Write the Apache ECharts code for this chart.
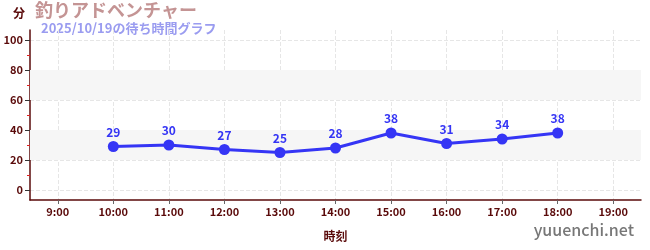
<!DOCTYPE html>
<html><head><meta charset="utf-8">
<script src="https://cdn.jsdelivr.net/npm/echarts@6/dist/echarts.min.js"></script>
<style>html,body{margin:0;padding:0;background:#fff}#c{width:650px;height:250px}</style>
</head><body><div id="c"></div>
<script>
const title = "釣りアドベンチャー";
const subtitle = "2025/10/19の待ち時間グラフ";
const hours = [10, 11, 12, 13, 14, 15, 16, 17, 18];
const waits = [29, 30, 27, 25, 28, 38, 31, 34, 38];
const xTicks = [9, 10, 11, 12, 13, 14, 15, 16, 17, 18, 19];
const yTicks = [0, 20, 40, 60, 80, 100];
const yMinorTicks = [10, 30, 50, 70, 90];

const axisColor = '#5a0a0a';
const font = '"Noto Sans CJK JP", "Noto Sans", sans-serif';
const chart = echarts.init(document.getElementById('c'));
chart.setOption({
  animation: false,
  textStyle: { fontFamily: font },
  graphic: [
    { type: 'text', left: 13, top: 7, style: { text: '分', fill: axisColor, font: 'bold 12px ' + font } },
    { type: 'text', left: 35, top: 1, style: { text: title, fill: '#c49494', font: 'bold 18px ' + font } },
    { type: 'text', left: 41, top: 22, style: { text: subtitle, fill: '#9a9cf0', font: 'bold 13px ' + font } },
    { type: 'text', right: 16, top: 222, style: { text: 'yuuenchi.net', fill: '#777777', font: '500 16px ' + font } }
  ],
  grid: { left: 30, right: 9, top: 30, bottom: 50 },
  xAxis: {
    type: 'value', min: 8.5, max: 19.5,
    name: '時刻', nameLocation: 'middle', nameGap: 30,
    nameTextStyle: { color: axisColor, fontWeight: 'bold', fontSize: 12 },
    axisLine: { onZero: false, lineStyle: { color: axisColor, width: 1.5 } },
    axisTick: { customValues: xTicks, length: 4, lineStyle: { color: '#666' } },
    axisLabel: { customValues: xTicks, color: axisColor, fontWeight: 'bold', fontSize: 11, margin: 6,
      formatter: v => v + ':00' },
    splitLine: { show: true, lineStyle: { color: '#e6e6e6', type: 'dashed' } }
  },
  yAxis: [{
    type: 'value', min: -20/3, max: 320/3,
    axisLine: { show: true, lineStyle: { color: axisColor, width: 1.5 } },
    axisTick: { show: true, customValues: yTicks, length: 5, lineStyle: { color: '#333' } },
    axisLabel: { customValues: yTicks, color: axisColor, fontWeight: 'bold', fontSize: 11, margin: 7 },
    splitLine: { show: true, lineStyle: { color: '#e6e6e6', type: 'dashed' } },
    splitArea: { show: false }
  }, {
    type: 'value', min: -20/3, max: 320/3, position: 'left',
    axisLine: { show: false },
    axisTick: { show: true, customValues: yMinorTicks, length: 3, lineStyle: { color: '#e02020' } },
    axisLabel: { show: false },
    splitLine: { show: false }
  }],
  series: [{
    type: 'line',
    data: hours.map((h, i) => [h, waits[i]]),
    color: '#3535f5',
    lineStyle: { width: 3, color: '#3535f5' },
    symbol: 'circle', symbolSize: 11,
    itemStyle: { color: '#3535f5' },
    label: { show: true, position: 'top', distance: 3, color: '#3535f5', fontWeight: 'bold', fontSize: 12 },
    markArea: {
      silent: true,
      itemStyle: { color: '#f6f6f6' },
      data: [[{ yAxis: 20 }, { yAxis: 40 }], [{ yAxis: 60 }, { yAxis: 80 }]]
    },
    z: 3
  }]
});
</script></body></html>
